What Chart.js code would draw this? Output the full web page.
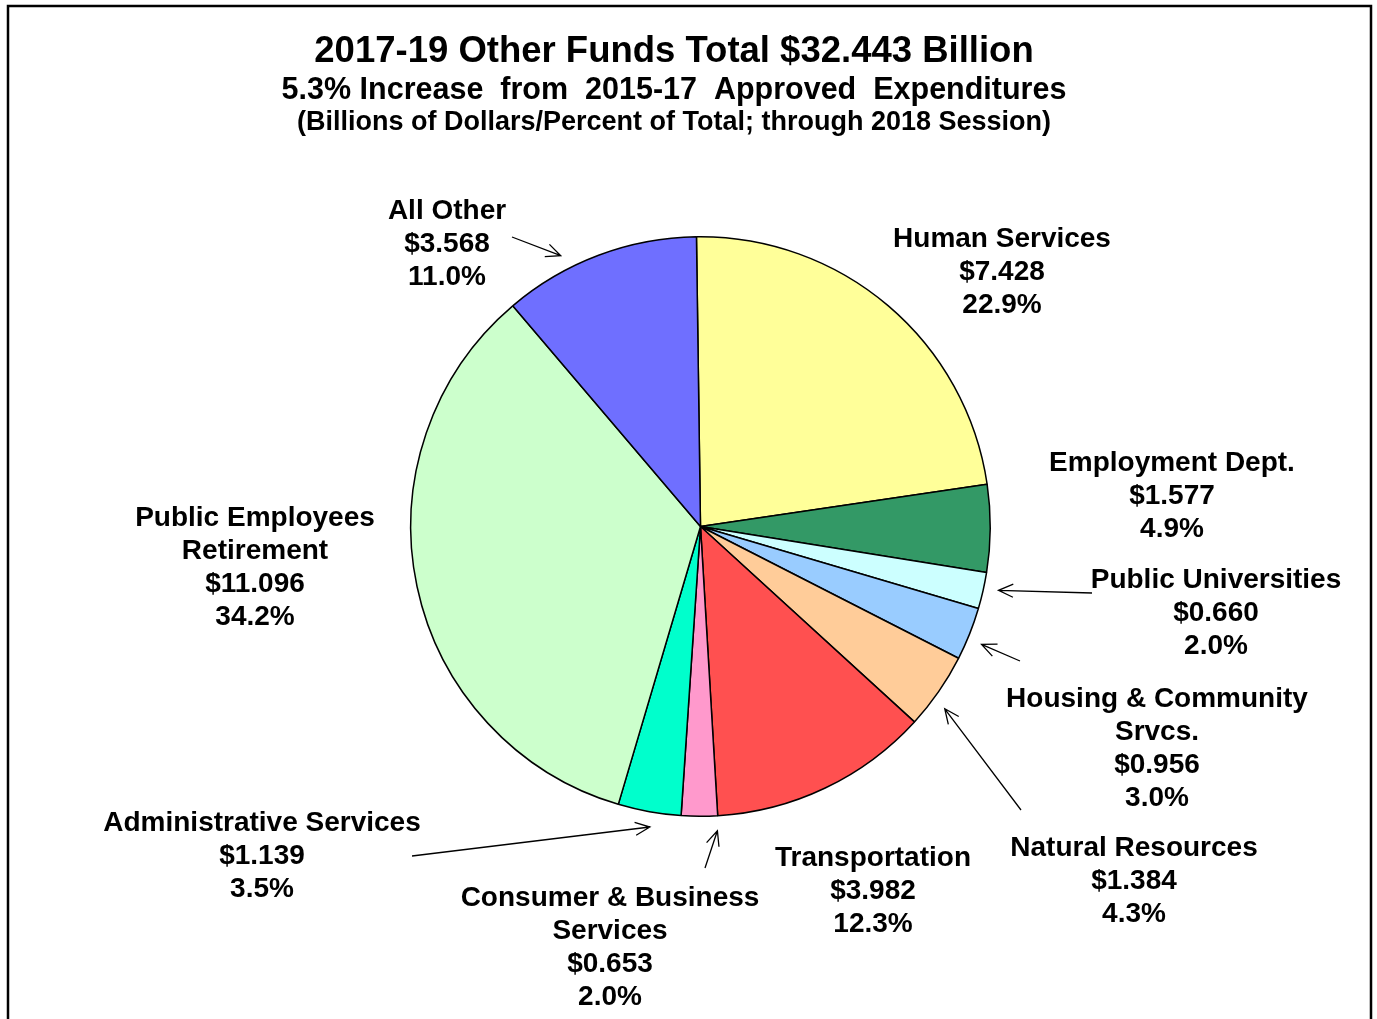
<!DOCTYPE html>
<html>
<head>
<meta charset="utf-8">
<script src="https://cdn.jsdelivr.net/npm/chart.js@4"></script>
<style>
  html, body { margin: 0; padding: 0; background: #fff; }
  #wrap { width: 1377px; height: 1019px; }
</style>
</head>
<body>
<div id="wrap"><canvas id="myChart" width="1377" height="1019"></canvas></div>
<script>
// 2017-19 Other Funds (billions of dollars)
const categories = ["Human Services", "Employment Dept.", "Public Universities", "Housing & Community Srvcs.",
  "Natural Resources", "Transportation", "Consumer & Business Services", "Administrative Services",
  "Public Employees Retirement", "All Other"];
const amounts = [7.428, 1.577, 0.660, 0.956, 1.384, 3.982, 0.653, 1.139, 11.096, 3.568];
const percents = [22.9, 4.9, 2.0, 3.0, 4.3, 12.3, 2.0, 3.5, 34.2, 11.0];
const sliceColors = ["#FFFF99", "#339966", "#CCFFFF", "#99CCFF", "#FFCC99", "#FF5050", "#FF99CC", "#00FFCC", "#CCFFCC", "#6F6FFF"];

const titleLines = [
  "2017-19 Other Funds Total $32.443 Billion",
  "5.3% Increase  from  2015-17  Approved  Expenditures",
  "(Billions of Dollars/Percent of Total; through 2018 Session)"
];

// label placement: x = centre, y = middle of first line, wrap = max line width
// arrow: tail point + angle nudge (deg) for the tip on the slice
const labelPos = [
  {x: 1002, y: 239, wrap: 400},
  {x: 1172, y: 463, wrap: 400},
  {x: 1216, y: 580, wrap: 400, arrow: {tx: 1092, ty: 593, da: -0.7}},
  {x: 1157, y: 699, wrap: 310, arrow: {tx: 1020, ty: 661, da: 1}},
  {x: 1134, y: 848, wrap: 400, arrow: {tx: 1021, ty: 810, da: 2}},
  {x: 873, y: 858, wrap: 400},
  {x: 610, y: 898, wrap: 310, arrow: {tx: 705, ty: 868, da: -3.4}},
  {x: 262, y: 823, wrap: 400, arrow: {tx: 412, ty: 856, da: -0.6}},
  {x: 255, y: 518, wrap: 245},
  {x: 447, y: 211, wrap: 400, arrow: {tx: 512, ty: 237, da: -6.7}}
];

const LABEL_FONT = 'bold 28px "Liberation Sans", Arial, sans-serif';

function wrapText(ctx, text, maxW) {
  const words = text.split(" ");
  const lines = [];
  let cur = "";
  words.forEach(function (w) {
    const test = cur ? cur + " " + w : w;
    if (cur && ctx.measureText(test).width > maxW) {
      lines.push(cur);
      cur = w;
    } else {
      cur = test;
    }
  });
  if (cur) lines.push(cur);
  return lines;
}

// frame + titles + callout labels
const decorPlugin = {
  id: "decor",
  afterDraw(chart) {
    const ctx = chart.ctx;
    ctx.save();
    // outer frame (bottom runs off the picture)
    ctx.strokeStyle = "#000";
    ctx.lineWidth = 2.5;
    ctx.beginPath();
    ctx.moveTo(8, 1030);
    ctx.lineTo(8, 6);
    ctx.lineTo(1371, 6);
    ctx.lineTo(1371, 1030);
    ctx.stroke();

    ctx.fillStyle = "#000";
    ctx.textAlign = "center";
    ctx.textBaseline = "middle";
    ctx.font = 'bold 36.5px "Liberation Sans", Arial, sans-serif';
    ctx.fillText(titleLines[0], 674, 52);
    ctx.font = 'bold 30.5px "Liberation Sans", Arial, sans-serif';
    ctx.fillText(titleLines[1], 674, 91);
    ctx.font = 'bold 27px "Liberation Sans", Arial, sans-serif';
    ctx.fillText(titleLines[2], 674, 123);

    const meta = chart.getDatasetMeta(0);
    ctx.font = LABEL_FONT;
    categories.forEach(function (name, i) {
      const p = labelPos[i];
      const lines = wrapText(ctx, name, p.wrap);
      lines.push("$" + amounts[i].toFixed(3));
      lines.push(percents[i].toFixed(1) + "%");
      lines.forEach(function (ln, k) {
        ctx.fillText(ln, p.x, p.y + k * 33);
      });
      if (p.arrow) {
        const arc = meta.data[i];
        const mid = (arc.startAngle + arc.endAngle) / 2 + p.arrow.da * Math.PI / 180;
        const r = arc.outerRadius + 15;
        const hx = arc.x + Math.cos(mid) * r;
        const hy = arc.y + Math.sin(mid) * r;
        ctx.lineWidth = 1.3;
        ctx.beginPath();
        ctx.moveTo(p.arrow.tx, p.arrow.ty);
        ctx.lineTo(hx, hy);
        const ang = Math.atan2(hy - p.arrow.ty, hx - p.arrow.tx);
        const len = 16, spread = 0.42;
        ctx.moveTo(hx - len * Math.cos(ang - spread), hy - len * Math.sin(ang - spread));
        ctx.lineTo(hx, hy);
        ctx.lineTo(hx - len * Math.cos(ang + spread), hy - len * Math.sin(ang + spread));
        ctx.stroke();
      }
    });
    ctx.restore();
  }
};

const myChart = new Chart(document.getElementById("myChart"), {
  type: "pie",
  data: {
    labels: categories,
    datasets: [{
      data: amounts,
      backgroundColor: sliceColors,
      borderColor: "#000",
      borderWidth: 1.5
    }]
  },
  options: {
    responsive: false,
    animation: false,
    rotation: -0.8,
    layout: {
      padding: { left: 410, right: 386, top: 236, bottom: 202 }
    },
    plugins: {
      legend: { display: false },
      title: { display: false },
      tooltip: { enabled: false }
    }
  },
  plugins: [decorPlugin]
});
</script>
</body>
</html>
